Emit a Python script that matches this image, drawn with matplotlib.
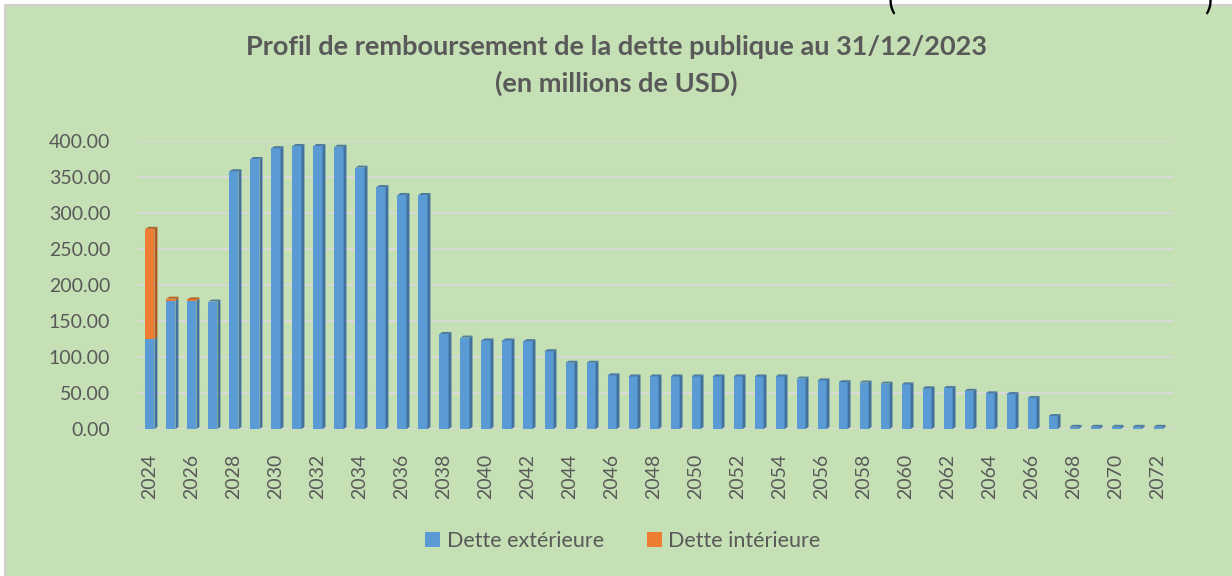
import numpy as np
import matplotlib
matplotlib.use("Agg")
import matplotlib.pyplot as plt
from matplotlib.patches import Rectangle, Polygon

plt.rcParams['font.family'] = ['Lato', 'DejaVu Sans']

# data (millions USD)
years = list(range(2024, 2073))
dette_ext = [125, 178, 178, 177, 358, 375, 390, 393, 393, 392,
             363, 336, 325, 325, 132, 127, 123, 123, 122, 108,
             92, 92, 74.5, 73, 73, 73, 73, 73, 73, 73,
             73, 70, 67.5, 65, 64.5, 63, 62, 56.5, 57, 53,
             49.5, 48.5, 43, 18, 3, 3, 3, 3, 3]
dette_int = [153, 3, 2] + [0] * 46
yticks = [0, 50, 100, 150, 200, 250, 300, 350, 400]

blue, blue_dark = '#5B9BD5', '#41719C'
orange, orange_dark = '#ED7D31', '#AE5A21'
grey = '#595959'

W, H = 1232, 576
fig = plt.figure(figsize=(W / 100, H / 100), dpi=100)
fig.patch.set_facecolor('white')
fig.patches.append(Rectangle((5 / W, -0.01), 1, (H - 5) / H + 0.01, transform=fig.transFigure,
                             facecolor='#C5E0B4', edgecolor='#D0D0D0', linewidth=1.5, zorder=-5))
# bits of text cut off above the chart
fig.text(892 / W, 1.0, '(', fontsize=22, va='center', ha='center', color='black')
fig.text(1208 / W, 1.0, ')', fontsize=22, va='center', ha='center', color='black')

ax = fig.add_axes([138 / W, (H - 429) / H, (1173 - 138) / W, (429 - 141) / H])
ax.set_zorder(2)
ax.set_facecolor('none')

x = np.array(years, dtype=float)
ext = np.array(dette_ext, dtype=float)
inn = np.array(dette_int, dtype=float)
w = 0.43
dx, dy = 0.14, 2.8

ax.bar(x, ext, width=w, color=blue, zorder=3, label='Dette extérieure')
ax.bar(x, inn, width=w, bottom=ext, color=orange, zorder=3, label='Dette intérieure')

# fake 3D side faces
for xi, e, i in zip(x, ext, inn):
    x0 = xi + w / 2
    ax.add_patch(Polygon([(x0, 0), (x0 + dx, dy), (x0 + dx, e + dy), (x0, e)],
                         closed=True, facecolor=blue_dark, edgecolor='none', zorder=3))
    if i > 0:
        ax.add_patch(Polygon([(x0, e), (x0 + dx, e + dy), (x0 + dx, e + i + dy), (x0, e + i)],
                             closed=True, facecolor=orange_dark, edgecolor='none', zorder=3))
    # top face
    t = e + i
    c = orange_dark if i > 0 else blue_dark
    ax.add_patch(Polygon([(xi - w / 2, t), (x0, t), (x0 + dx, t + dy), (xi - w / 2 + dx, t + dy)],
                         closed=True, facecolor=c, edgecolor='none', zorder=3, alpha=0.9))

ax.set_xlim(2023.43, 2072.71)
ax.set_ylim(0, 400)
ax.set_yticks(yticks)
ax.set_yticklabels([f'{v:.2f}' for v in yticks])
ax.set_xticks(years[::2])
ax.set_xticklabels([str(y) for y in years[::2]], rotation=90)
ax.tick_params(axis='y', length=0, pad=20, labelsize=14, labelcolor=grey)
ax.tick_params(axis='x', length=0, pad=18, labelsize=14, labelcolor=grey)
ax.yaxis.grid(True, color='#D9D9D9', linewidth=1.5, zorder=0)
ax.set_axisbelow(True)
for s in ax.spines.values():
    s.set_visible(False)

fig.text(616 / W, 1 - 47 / H, 'Profil de remboursement de la dette publique au 31/12/2023',
         ha='center', va='center', fontsize=19.5, fontweight='bold', color=grey)
fig.text(616 / W, 1 - 83 / H, '(en millions de USD)',
         ha='center', va='center', fontsize=19.5, fontweight='bold', color=grey)

fig.legend(loc='center', bbox_to_anchor=(623 / W, 1 - 541 / H), ncol=2, frameon=False,
           fontsize=15.5, labelcolor=grey, handlelength=0.7, handleheight=0.7,
           handletextpad=0.3, columnspacing=2.0)

fig.savefig('out.png', dpi=100, facecolor=fig.get_facecolor())
